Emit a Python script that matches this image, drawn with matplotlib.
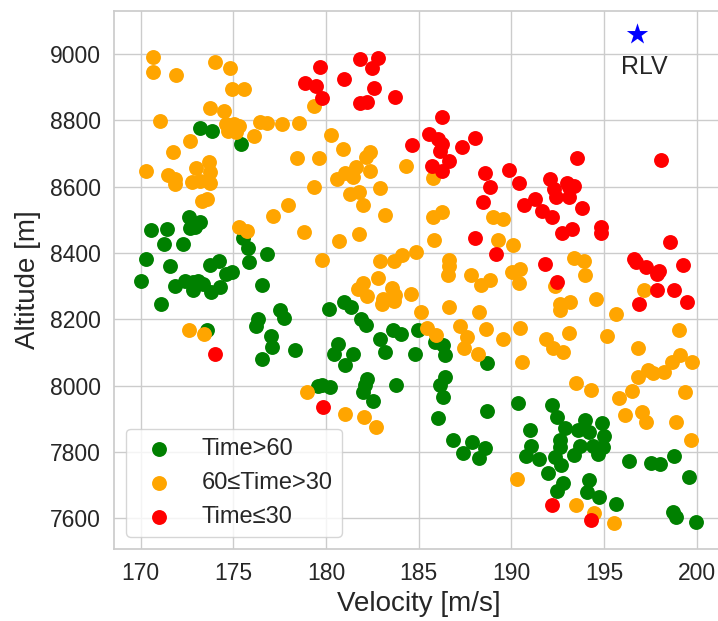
import matplotlib
matplotlib.use("Agg")
import matplotlib.pyplot as plt
import seaborn as sns

# flight points: velocity [m/s], altitude [m], grouped by time
green_v = [173.2, 173.86, 175.4, 172.58, 173.2, 172.68, 172.95, 170.53, 171.43, 171.28,
           172.28, 170.28, 171.58, 170.03, 171.83, 172.38, 172.8, 173.1, 173.35, 172.8,
           173.8, 174.3, 173.75, 174.25, 174.6, 174.9, 171.08, 175.5, 175.8, 175.85,
           176.83, 176.53, 176.33, 176.23, 177.49, 177.74, 177.04, 177.09, 178.35, 176.53,
           173.6, 179.57, 180.17, 180.98, 181.33, 181.89, 182.14, 182.9, 183.6, 184.06,
           184.97, 185.88, 186.33, 186.43, 180.67, 180.42, 181.48, 183.2, 184.82, 188.71,
           181.03, 186.43, 186.13, 186.33, 179.77, 180.22, 182.19, 182.09, 181.99, 182.55,
           183.8, 186.03, 188.71, 186.84, 187.9, 187.4, 188.26, 188.56, 190.38, 192.2,
           192.45, 190.98, 192.9, 193.96, 193.6, 194.21, 194.87, 195.02, 192.6, 192.6,
           191.08, 190.78, 191.49, 192.35, 192.7, 193.4, 193.7, 194.42, 194.67, 194.92,
           191.99, 192.8, 192.45, 194.21, 194.06, 194.72, 195.63, 196.34, 197.55, 198.0,
           198.76, 199.57, 198.71, 198.86, 199.97]
green_h = [8777, 8769, 8728, 8510, 8493, 8475, 8478, 8470, 8471, 8426,
           8426, 8383, 8360, 8317, 8299, 8317, 8312, 8317, 8307, 8289,
           8282, 8297, 8364, 8376, 8337, 8342, 8245, 8446, 8416, 8373,
           8398, 8302, 8202, 8179, 8229, 8205, 8149, 8115, 8107, 8079,
           8167, 8000, 8230, 8252, 8237, 8202, 8182, 8142, 8167, 8155,
           8167, 8132, 8122, 8092, 8127, 8094, 8094, 8101, 8094, 8068,
           8063, 8026, 8001, 7966, 8001, 7996, 8019, 8001, 7981, 7953,
           8003, 7901, 7923, 7837, 7830, 7798, 7782, 7812, 7948, 7941,
           7906, 7866, 7871, 7896, 7866, 7861, 7888, 7848, 7836, 7816,
           7819, 7788, 7780, 7785, 7760, 7792, 7819, 7819, 7795, 7816,
           7735, 7705, 7682, 7715, 7680, 7665, 7643, 7773, 7767, 7765,
           7788, 7725, 7618, 7605, 7590]

orange_v = [170.68, 170.68, 171.93, 174.0, 174.8, 174.95, 175.6, 173.75, 174.5, 171.03,
            174.6, 175.05, 175.3, 174.7, 175.15, 176.43, 176.83, 177.64, 178.55, 176.13,
            172.68, 171.73, 178.45, 179.64, 170.28, 171.48, 171.83, 173.0, 173.7, 173.75,
            172.75, 173.2, 173.75, 179.35, 179.37, 171.83, 173.3, 173.6, 175.3, 175.75,
            177.13, 177.94, 178.8, 172.58, 173.4, 180.27, 180.93, 182.39, 182.14, 181.64,
            182.39, 181.03, 180.57, 181.48, 184.31, 185.78, 182.9, 181.29, 181.79, 181.99,
            183.2, 181.79, 180.72, 179.77, 182.9, 183.65, 184.11, 184.87, 182.8, 181.99,
            181.74, 182.19, 183.55, 183.7, 183.1, 183.0, 183.65, 184.57, 185.12, 185.78,
            186.24, 185.83, 186.64, 186.64, 186.59, 187.8, 188.36, 188.86, 186.64, 188.26,
            185.43, 185.93, 187.25, 187.6, 188.61, 189.57, 187.45, 188.21, 189.02, 189.57,
            189.27, 190.07, 190.02, 178.97, 181.03, 182.04, 182.69, 190.48, 190.43, 193.4,
            193.91, 193.96, 192.35, 193.15, 192.6, 192.6, 194.57, 195.63, 197.15, 190.48,
            191.89, 193.1, 192.25, 192.8, 195.17, 196.84, 199.07, 190.58, 199.12, 198.66,
            199.77, 193.5, 194.32, 195.83, 196.49, 196.84, 197.4, 197.65, 198.26, 199.37,
            196.14, 197.05, 197.25, 198.86, 199.72, 190.33, 193.5, 194.47, 195.53]
orange_h = [8990, 8945, 8937, 8975, 8957, 8895, 8895, 8836, 8829, 8799,
            8789, 8789, 8782, 8769, 8764, 8794, 8792, 8789, 8792, 8752,
            8739, 8704, 8686, 8686, 8646, 8636, 8622, 8656, 8674, 8644,
            8614, 8616, 8612, 8599, 8844, 8608, 8558, 8563, 8478, 8466,
            8511, 8546, 8463, 8167, 8157, 8757, 8714, 8706, 8689, 8659,
            8647, 8642, 8624, 8629, 8662, 8626, 8597, 8578, 8583, 8546,
            8516, 8456, 8435, 8378, 8376, 8376, 8393, 8403, 8325, 8309,
            8292, 8269, 8295, 8272, 8262, 8247, 8255, 8275, 8222, 8510,
            8523, 8440, 8380, 8360, 8333, 8333, 8302, 8319, 8237, 8222,
            8175, 8152, 8179, 8147, 8172, 8142, 8112, 8094, 8508, 8503,
            8440, 8423, 8343, 7980, 7913, 7906, 7876, 8353, 8310, 8386,
            8376, 8333, 8299, 8252, 8245, 8227, 8262, 8217, 8287, 8175,
            8142, 8160, 8112, 8101, 8150, 8112, 8167, 8071, 8092, 8071,
            8071, 8008, 7986, 7963, 7984, 8026, 8046, 8039, 8041, 7981,
            7911, 7919, 7889, 7889, 7836, 7718, 7640, 7615, 7585]

red_v = [178.87, 179.48, 179.67, 179.78, 181.84, 182.8, 182.5, 180.98, 182.6, 183.7,
         181.84, 182.19, 186.24, 185.58, 186.03, 186.24, 186.13, 184.62, 187.35, 188.05,
         186.64, 185.73, 186.24, 188.56, 189.87, 188.86, 188.46, 188.05, 189.17, 179.82,
         174.0, 193.56, 198.06, 190.43, 192.09, 193.0, 193.4, 192.3, 193.1, 192.4,
         193.1, 191.3, 190.68, 191.64, 192.2, 193.81, 193.3, 192.75, 194.82, 194.82,
         198.56, 191.79, 192.45, 196.64, 196.74, 197.25, 197.85, 197.95, 199.27, 197.85,
         198.76, 196.89, 199.47, 192.2, 194.32]
red_h = [8912, 8903, 8960, 8867, 8985, 8987, 8957, 8925, 8898, 8870,
         8852, 8857, 8809, 8759, 8744, 8729, 8709, 8726, 8719, 8747,
         8679, 8662, 8646, 8641, 8649, 8598, 8553, 8445, 8398, 7936,
         8094, 8687, 8681, 8611, 8622, 8611, 8603, 8593, 8598, 8568,
         8568, 8563, 8546, 8528, 8510, 8535, 8471, 8461, 8478, 8460,
         8433, 8367, 8314, 8383, 8373, 8358, 8337, 8346, 8365, 8287,
         8289, 8247, 8252, 7640, 7595]

rlv_v, rlv_h = 196.8, 9060

sns.set_theme(style="whitegrid", font_scale=1.5)
plt.rcParams["font.family"] = ["Liberation Sans", "DejaVu Sans"]

fig = plt.figure(figsize=(7.18, 6.21), dpi=100)
ax = fig.add_axes([0.1588, 0.1159, 0.8489, 0.8669])

ax.scatter(green_v, green_h, s=115, c="green", linewidths=0, label="Time>60")
ax.scatter(orange_v, orange_h, s=115, c="orange", linewidths=0, label="60≤Time>30")
ax.scatter(red_v, red_h, s=115, c="red", linewidths=0, label="Time≤30")
ax.scatter([rlv_v], [rlv_h], s=260, c="blue", marker="*", linewidths=0)
ax.text(rlv_v + 0.35, rlv_h - 100, "RLV", ha="center", va="center", fontsize=18)

ax.set_xlim(168.56, 201.45)
ax.set_ylim(7507, 9131)
ax.set_xticks([170, 175, 180, 185, 190, 195, 200])
ax.set_yticks([7600, 7800, 8000, 8200, 8400, 8600, 8800, 9000])
ax.set_xlabel("Velocity [m/s]", fontsize=20, labelpad=4)
ax.set_ylabel("Altitude [m]", fontsize=20, labelpad=6)
ax.legend(loc="lower left", fontsize=17)

fig.savefig("out.png", dpi=100)
